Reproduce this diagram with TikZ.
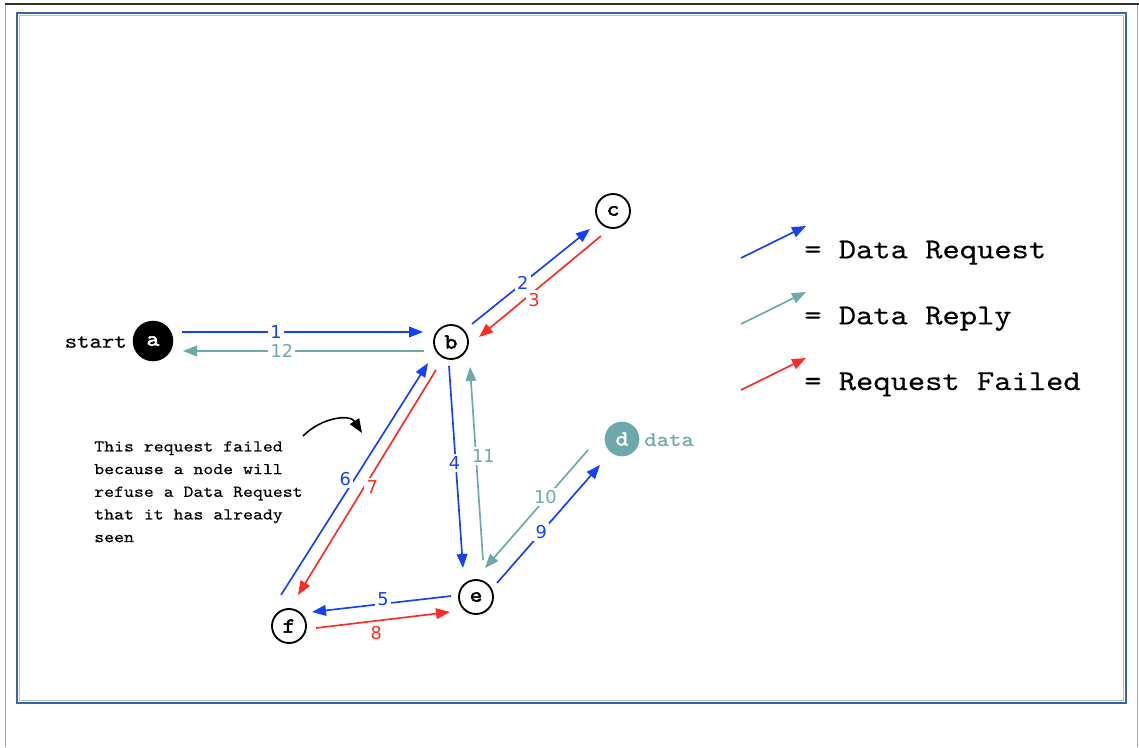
\documentclass[tikz,border=0pt]{standalone}
\usepackage{fontspec}
\newfontfamily\numfont{DejaVu Sans}
% typewriter face widened to Courier-like proportions
\newfontfamily\typeface{lmmono10-regular}[Extension=.otf,FakeStretch=1.143,FakeBold=0.3]
\newfontfamily\letterface{lmmono10-regular}[Extension=.otf,FakeStretch=1.143,FakeBold=2.6]
\usetikzlibrary{arrows.meta,calc}

\definecolor{reqblue}{RGB}{22,64,245}
\definecolor{replyteal}{RGB}{108,170,170}
\definecolor{failred}{RGB}{252,44,36}
\definecolor{framedark}{RGB}{58,100,165}
\definecolor{framelight}{RGB}{172,196,230}

\begin{document}
\begin{tikzpicture}[x=0.75pt,y=-0.75pt,
  tip/.style={-{Triangle[length=10.5pt,width=8pt]}},
  request/.style={tip,draw=reqblue,line width=1.25pt},
  reply/.style={tip,draw=replyteal,line width=1.25pt},
  failed/.style={tip,draw=failred,line width=1.25pt},
  hop/.style={circle,draw=black,line width=1.4pt,minimum size=25.5pt,inner sep=0pt,
    font=\letterface\fontsize{16}{16}\selectfont},
  num/.style={fill=white,inner sep=1.8pt,font=\numfont\fontsize{13.3}{13.3}\selectfont},
  reqnum/.style={num,text=reqblue},
  replynum/.style={num,text=replyteal},
  failnum/.style={num,text=failred},
  legendtext/.style={anchor=base west,inner sep=0pt,font=\typeface\fontsize{21.6}{21.6}\selectfont}
]
% page area and frames
\useasboundingbox (0,0) rectangle (1139,747);
\fill[white] (0,0) rectangle (1139,747);
\draw[gray!70,line width=0.6pt] (5,4) -- (5,747);
\draw[gray!70,line width=0.6pt] (1137,4) -- (1137,747);
\draw[black!80,line width=1.1pt] (5,4) -- (1139,4);
\draw[framedark,line width=1.6pt] (17,13) rectangle (1126,703);
\draw[framelight,line width=0.7pt] (19.5,15.5) rectangle (1123.5,700.5);

% nodes
\node[hop,fill=black,text=white,minimum size=29pt] (a) at (153,341) {a};
\node[hop] (b) at (451,342) {b};
\node[hop] (c) at (613,211) {c};
\node[hop,draw=none,fill=replyteal,text=white,minimum size=26pt] (d) at (622,439) {d};
\node[hop] (e) at (476,597) {e};
\node[hop] (f) at (289,626) {f};

\node[anchor=base east,inner sep=0pt,font=\typeface\fontsize{15.5}{15.5}\selectfont] (start) at (127,347.7) {start};
\node[anchor=base west,inner sep=0pt,text=replyteal,font=\typeface\fontsize{15.5}{15.5}\selectfont] (datalbl) at (644,446) {data};

% message hops
\draw[request] ($(a)+(29,-9)$) -- node[reqnum,pos=0.39]{1} ($(b)+(-28,-10)$);
\draw[reply]   ($(b)+(-27,9)$) -- node[replynum,pos=0.59]{12} ($(a)+(30,10)$);
\draw[request] ($(b)+(21,-18)$) -- node[reqnum,pos=0.43]{2} ($(c)+(-23,18)$);
\draw[failed]  ($(c)+(-12,25)$) -- node[failnum,pos=0.55,yshift=-6pt]{3} ($(b)+(28,-5)$);
\draw[request] ($(b)+(-2,24)$) -- node[reqnum,pos=0.48,xshift=-1pt]{4} ($(e)+(-13,-29)$);
\draw[reply]   ($(e)+(7,-37)$) -- node[replynum,pos=0.54,xshift=5.5pt]{11} ($(b)+(19,25)$);
\draw[request] ($(e)+(-25,-1)$) -- node[reqnum,pos=0.49,yshift=3.5pt]{5} ($(f)+(23,-14)$);
\draw[failed]  ($(f)+(27,2)$) -- node[failnum,pos=0.45,yshift=-9pt]{8} ($(e)+(-26,15)$);
\draw[request] ($(f)+(-8,-31)$) -- node[reqnum,pos=0.5,xshift=-7pt]{6} ($(b)+(-23,21)$);
\draw[failed]  ($(b)+(-15,28)$) -- node[failnum,pos=0.52,xshift=6pt]{7} ($(f)+(9,-31)$);
\draw[request] ($(e)+(21,-14)$) -- node[reqnum,pos=0.43]{9} ($(d)+(-22,26)$);
\draw[reply]   ($(d)+(-34,11)$) -- node[replynum,pos=0.4,xshift=-1pt]{10} ($(e)+(9,-29)$);

% note on the refused request
\node[anchor=north west,inner sep=0pt,align=left,
  font=\typeface\fontsize{12.4}{17}\selectfont] (note) at (94,441)
  {This request failed\\because a node will\\refuse a Data Request\\that it has already\\seen};
\coordinate (notefrom) at (303,436);
\coordinate (noteto) at (362,433);
\draw[tip,line width=1.2pt] (notefrom) .. controls (322,417) and (350,414) .. (noteto);

% legend
\coordinate (k1s) at (741,258); \coordinate (k1e) at (806,226);
\coordinate (k2s) at (741,324); \coordinate (k2e) at (806,292);
\coordinate (k3s) at (741,390); \coordinate (k3e) at (806,358);
\draw[request] (k1s) -- (k1e);
\draw[reply]   (k2s) -- (k2e);
\draw[failed]  (k3s) -- (k3e);
\node[legendtext] (k1) at (804,258.3) {= Data Request};
\node[legendtext] (k2) at (804,324.3) {= Data Reply};
\node[legendtext] (k3) at (804,390) {= Request Failed};
\end{tikzpicture}
\end{document}
